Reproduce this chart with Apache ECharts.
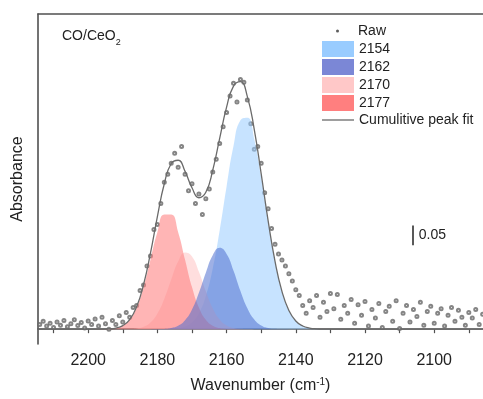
<!DOCTYPE html>
<html>
<head>
<meta charset="utf-8">
<script src="https://cdn.jsdelivr.net/npm/echarts@6/dist/echarts.min.js"></script>
<style>html,body{margin:0;padding:0;background:#fff;}#chart{width:483px;height:399px;}</style>
</head>
<body>
<div id="chart"></div>
<script>
// ---- data (wavenumber in cm-1, absorbance) ----
const rawX = [2214,2213,2212,2211,2210,2209,2208,2207,2206,2205,
  2204,2203,2202,2201,2200,2199,2198,2197,2196,2195,
  2194,2193,2192,2191,2190,2189,2188,2187,2186,2185,
  2184,2183,2182,2181,2180,2179,2178,2177,2176,2175,
  2174,2173,2172,2171,2170,2169,2168,2167,2166,2165,
  2164,2163,2162,2161,2160,2159,2158,2157,2156,2155,
  2154,2153,2152,2151,2150,2149,2148,2147,2146,2145,
  2144,2143,2142,2141,2140,2139,2138,2137,2136,2135,
  2134,2133,2132,2131,2130,2129,2128,2127,2126,2125,
  2124,2123,2122,2121,2120,2119,2118,2117,2116,2115,
  2114,2113,2112,2111,2110,2109,2108,2107,2106,2105,
  2104,2103,2102,2101,2100,2099,2098,2097,2096,2095,
  2094,2093,2092,2091,2090,2089,2088,2087,2086];
const rawY = [0.012,0.020,0.008,0.015,0.004,0.018,0.010,0.022,0.006,0.014,
  0.024,0.009,0.017,0.003,0.021,0.012,0.026,0.008,0.030,0.014,
  0.000,0.022,0.012,0.034,0.018,0.042,0.030,0.055,0.060,0.098,
  0.112,0.160,0.185,0.252,0.265,0.318,0.372,0.392,0.420,0.445,
  0.410,0.462,0.392,0.350,0.368,0.318,0.342,0.290,0.330,0.355,
  0.398,0.430,0.470,0.512,0.548,0.590,0.622,0.575,0.632,0.625,
  0.580,0.520,0.455,0.462,0.420,0.345,0.305,0.255,0.215,0.190,
  0.175,0.160,0.140,0.122,0.100,0.085,0.060,0.040,0.072,0.055,
  0.085,0.030,0.068,0.045,0.090,0.052,0.088,0.025,0.060,0.040,
  0.075,0.015,0.062,0.035,0.070,0.008,0.050,0.028,0.065,0.004,
  0.045,0.058,0.020,0.072,0.002,0.040,0.060,0.018,0.050,0.032,
  0.068,0.010,0.045,0.058,0.015,0.040,0.052,0.008,0.035,0.055,
  0.020,0.048,0.030,0.010,0.042,0.028,0.050,0.012,0.038];

const compX = [2200,2198,2196,2194,2192,2190,2188,2186,2184,2182,2180,2178,2176,2174,2172,2170,2168,2166,
  2164,2162,2160,2158,2156,2154,2152,2150,2148,2146,2144,2142,2140,2138,2136,2134,2132,2130];
const peak2154 = [0,0,0,0,0,0,0,0,0,0,0,0.0002,0.0007,0.0023,0.0067,0.0174,0.0405,0.0837,
  0.1535,0.2499,0.3613,0.4638,0.5286,0.5349,0.4806,0.3835,0.2716,0.1708,0.0954,0.0473,0.0208,0.0081,0.0028,0.0009,0.0002,0];
const peak2162 = [0,0,0,0,0,0,0,0,0,0,0.0002,0.0007,0.0028,0.0086,0.0225,0.0496,0.0919,0.1430,
  0.1872,0.2060,0.1905,0.1481,0.0968,0.0532,0.0246,0.0095,0.0031,0.0009,0.0002,0,0,0,0,0,0,0];
const peak2170 = [0,0,0,0,0,0.0001,0.0004,0.0018,0.0060,0.0168,0.0395,0.0772,0.1258,0.1712,0.1943,0.1840,0.1454,0.0959,
  0.0528,0.0242,0.0093,0.0030,0.0008,0.0002,0,0,0,0,0,0,0,0,0,0,0,0];
const peak2177 = [0,0,0.0002,0.0007,0.0027,0.0088,0.0238,0.0548,0.1067,0.1758,0.2454,0.2899,0.2899,0.2454,0.1758,0.1067,0.0548,0.0238,
  0.0088,0.0027,0.0007,0.0002,0,0,0,0,0,0,0,0,0,0,0,0,0,0];

const fitX = [2216,2200,2198,2196,2194,2192,2190,2188,2186,2184,2182,2180,2178,2176,2174,2172,2170,2168,2166,
  2164,2162,2160,2158,2156,2154,2152,2150,2148,2146,2144,2142,2140,2138,2136,2134,2132,2130,2080];
const fitY = [0,0,0,0.0002,0.0007,0.0027,0.0089,0.0242,0.0566,0.1127,0.1926,0.2851,0.3680,0.4192,0.4275,0.3993,0.3577,0.3326,0.3464,
  0.4023,0.4828,0.5618,0.6151,0.6262,0.5883,0.5052,0.3930,0.2747,0.1717,0.0956,0.0473,0.0208,0.0081,0.0028,0.0009,0.0002,0,0];

const peakNames = ['2154','2162','2170','2177'];
const xMin = 2085.9, xMax = 2214.5, xTickStep = 10, xLabelStep = 20;
const yMin = -0.0375, yMax = 0.7975;
const scaleBarX = 2106.2;
const scaleBarBottom = 0.2125;
const scaleBarLength = 0.05;

// ---- chart ----
const FONT = 'Liberation Sans, Arial, sans-serif';
const FRAME = '#505050';
const pair = (xs, ys) => xs.map((x, i) => [x, ys[i]]);
const peakFill = {'2154': '#99CCFF', '2162': '#4F6FD0', '2170': '#FFC8C8', '2177': '#FF7F7F'};
const peakOpacity = {'2154': 0.55, '2162': 0.55, '2170': 0.6, '2177': 0.58};
const legendFill = {'2154': '#99CCFF', '2162': '#7B87D6', '2170': '#FFC8C8', '2177': '#FF7F7F'};
const peakData = {'2154': peak2154, '2162': peak2162, '2170': peak2170, '2177': peak2177};
const drawOrder = ['2154', '2170', '2177', '2162'];

const chart = echarts.init(document.getElementById('chart'), null, {renderer: 'canvas'});
const series = [];
series.push({
  name: 'Raw', type: 'scatter', z: 1,
  data: pair(rawX, rawY),
  symbol: 'emptyCircle', symbolSize: 3,
  itemStyle: {color: '#666', borderColor: '#666', borderWidth: 0.6},
  silent: true
});
drawOrder.forEach(n => {
  series.push({
    name: n, type: 'line', z: 2, smooth: true,
    data: pair(compX, peakData[n]),
    symbol: 'none', showSymbol: false,
    color: peakFill[n],
    lineStyle: {width: 0},
    areaStyle: {color: peakFill[n], opacity: peakOpacity[n]},
    silent: true
  });
});
series.push({
  name: 'Cumulitive peak fit', type: 'line', z: 3, smooth: true,
  data: pair(fitX, fitY),
  symbol: 'none', showSymbol: false,
  color: '#6a6a6a',
  lineStyle: {color: '#6a6a6a', width: 1.3},
  silent: true,
  markLine: {
    silent: true, symbol: ['none', 'none'], animation: false,
    lineStyle: {color: '#222', width: 1.5, type: 'solid'},
    label: {show: false},
    data: [[{coord: [scaleBarX, scaleBarBottom]}, {coord: [scaleBarX, scaleBarBottom + scaleBarLength]}]]
  },
  markPoint: {
    silent: true, symbol: 'circle', symbolSize: 0, animation: false,
    label: {show: true, position: 'right', distance: 6, formatter: '0.05', color: '#222', fontSize: 14, fontFamily: FONT},
    data: [{coord: [scaleBarX, scaleBarBottom + scaleBarLength / 2]}]
  }
});

const option = {
  animation: false,
  backgroundColor: '#fff',
  textStyle: {fontFamily: FONT},
  title: {
    left: 57, top: 24,
    text: '{a|CO/CeO}{b|2}',
    textStyle: {
      fontWeight: 'normal',
      rich: {
        a: {fontSize: 14, fontWeight: 'normal', color: '#222', fontFamily: FONT, verticalAlign: 'bottom', padding: [0, 0, 4, 0]},
        b: {fontSize: 9, fontWeight: 'normal', color: '#222', fontFamily: FONT, verticalAlign: 'bottom'}
      }
    }
  },
  legend: [
    {
      left: 336, top: 24, padding: 0, orient: 'vertical',
      itemWidth: 3, itemHeight: 3,
      data: [{name: 'Raw', icon: 'circle', itemStyle: {color: '#333', borderWidth: 0}}],
      textStyle: {fontSize: 14, color: '#222', fontFamily: FONT, padding: [0, 0, 0, 14]},
      selectedMode: false
    },
    {
      left: 322, top: 41, padding: 0, orient: 'vertical',
      itemWidth: 32, itemHeight: 16, itemGap: 2,
      data: peakNames.map(n => ({name: n, icon: 'rect', itemStyle: {color: legendFill[n], borderWidth: 0, opacity: 1}}))
        .concat([{name: 'Cumulitive peak fit', icon: 'path://M0,0h32v1.3h-32z', itemStyle: {color: '#6a6a6a', borderWidth: 0}}]),
      textStyle: {fontSize: 14, color: '#222', fontFamily: FONT},
      selectedMode: false
    }
  ],
  grid: {left: 38, top: 14, right: 0, bottom: 51, show: false},
  xAxis: [
    {
      type: 'value', inverse: true, min: xMin, max: xMax,
      minInterval: xTickStep, maxInterval: xTickStep, splitNumber: 13,
      axisLine: {show: true, lineStyle: {color: FRAME, width: 1.6}},
      axisTick: {show: true, inside: false, length: 4, lineStyle: {color: FRAME, width: 1.2}},
      axisLabel: {
        show: true, margin: 9, fontSize: 16, color: '#222', fontFamily: FONT,
        showMinLabel: false, showMaxLabel: false,
        formatter: v => (Math.abs(v % xLabelStep) < 1e-6 ? String(v) : '')
      },
      splitLine: {show: false},
      name: '{n|Wavenumber (cm}{s|-1}{n|)}',
      nameLocation: 'middle', nameGap: 33,
      nameTextStyle: {
        rich: {
          n: {fontSize: 16, color: '#222', fontFamily: FONT, verticalAlign: 'bottom'},
          s: {fontSize: 10, color: '#222', fontFamily: FONT, verticalAlign: 'bottom', padding: [0, 0, 7, 0]}
        }
      }
    },
    {
      type: 'value', position: 'top', inverse: true, min: xMin, max: xMax,
      axisLine: {show: true, lineStyle: {color: FRAME, width: 1.6}},
      axisTick: {show: false}, axisLabel: {show: false}, splitLine: {show: false}
    }
  ],
  yAxis: {
    type: 'value', min: yMin, max: yMax,
    axisLine: {show: true, lineStyle: {color: FRAME, width: 1.6}},
    axisTick: {show: false},
    axisLabel: {show: false},
    splitLine: {show: false},
    name: 'Absorbance', nameLocation: 'middle', nameGap: 12, nameRotate: 90,
    nameTextStyle: {fontSize: 16, color: '#222', fontFamily: FONT}
  },
  series: series
};
chart.setOption(option);
</script>
</body>
</html>
